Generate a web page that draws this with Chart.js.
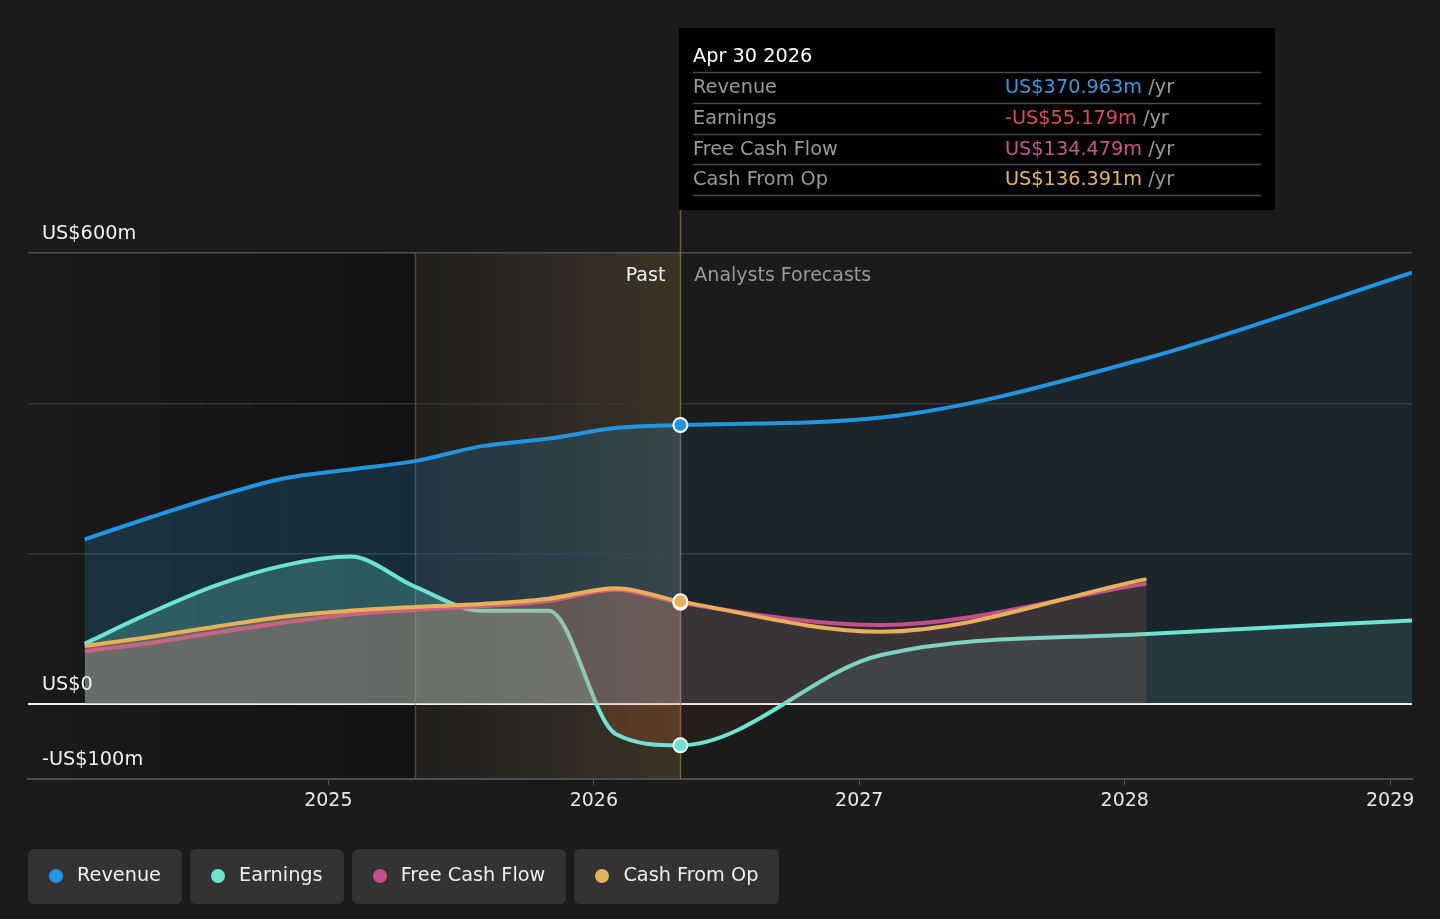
<!DOCTYPE html>
<html>
<head>
<meta charset="utf-8">
<script src="https://cdn.jsdelivr.net/npm/chart.js@4.4.1/dist/chart.umd.min.js"></script>
<style>
  html, body { margin: 0; padding: 0; background: #1b1b1b; }
  body { width: 1440px; height: 919px; position: relative; overflow: hidden; font-family: 'DejaVu Sans', sans-serif; }
  #wrap { position: absolute; left: 0; top: 0; width: 1440px; height: 919px; }
  #legend { position: absolute; left: 28px; top: 849px; display: flex; gap: 8px; }
  .item { box-sizing: border-box; height: 55px; background: #333; border-radius: 6px; display: flex; align-items: center;
          padding: 0 21px 5px 21px; color: #eee; font-size: 19.3px; }
  .dot { width: 14px; height: 14px; border-radius: 50%; margin-right: 14px; margin-top: 4px; }
</style>
</head>
<body>
<div id="wrap"><canvas id="chart" width="1440" height="919"></canvas></div>
<div id="legend"></div>
<script>
// dates of the data points (quarterly history, then yearly forecasts)
const dates = ['2024-01-31', '2024-04-30', '2024-07-31', '2024-10-31', '2025-01-31', '2025-04-30',
               '2025-07-31', '2025-10-31', '2026-01-31', '2026-04-30', '2027-01-31', '2028-01-31', '2029-01-31'];
// values in US$m
const revenue  = [219, 248, 276, 300, 312, 323, 343, 353, 367, 370.963, 381, 460, 574];
const earnings = [80, 121, 158, 184, 196, 156, 124, 124, -40, -55.179, 65, 93, 111];
const fcf      = [70, 81, 95, 108, 119, 125, 130, 137, 152, 134.479, 105, 160, null];
const cfo      = [77, 89, 103, 116, 124, 129, 133, 140, 154, 136.391, 96, 166, null];

const seriesNames = ['Revenue', 'Earnings', 'Free Cash Flow', 'Cash From Op'];
const xTickYears = [2025, 2026, 2027, 2028, 2029];
const xRange = ['2023-11-14', '2029-01-31'];
const yGridValues = [-100, 0, 200, 400, 600];
const yLabelValues = [600, 0, -100];
const yLabelTexts = ['US$600m', 'US$0', '-US$100m'];
const bandStart = '2025-04-30';
const highlightDate = '2026-04-30';

const colors = {
  revenue: '#2394df', earnings: '#6de3d2', fcf: '#c54f8b', cfo: '#e9b05a'
};
const months = ['Jan','Feb','Mar','Apr','May','Jun','Jul','Aug','Sep','Oct','Nov','Dec'];

function toYear(s) {
  const d = new Date(s + 'T00:00:00Z');
  const y = d.getUTCFullYear();
  return y + (d - Date.UTC(y, 0, 1)) / (Date.UTC(y + 1, 0, 1) - Date.UTC(y, 0, 1));
}
const hiIdx = dates.indexOf(highlightDate);
const pts = arr => dates.map((d, i) => ({ x: toYear(d), y: arr[i] })).filter(p => p.y !== null);

// horizontal gradient: one colour for the past, another for the forecast
function pastFuture(chart, past, future) {
  const a = chart.chartArea;
  if (!a) return past;
  const xh = chart.scales.x.getPixelForValue(toYear(highlightDate));
  const f = Math.min(Math.max((xh - a.left) / (a.right - a.left), 0), 1);
  const g = chart.ctx.createLinearGradient(a.left, 0, a.right, 0);
  g.addColorStop(0, past); g.addColorStop(f, past);
  g.addColorStop(Math.min(f + 0.001, 1), future); g.addColorStop(1, future);
  return g;
}

function money(v) {
  return (v < 0 ? '-' : '') + 'US$' + Math.abs(v).toFixed(3) + 'm';
}

const bandsPlugin = {
  id: 'bands',
  beforeDraw(chart) {
    const { ctx, chartArea: a, scales: { x } } = chart;
    const xb = x.getPixelForValue(toYear(bandStart));
    const xh = x.getPixelForValue(toYear(highlightDate));
    ctx.save();
    let g = ctx.createLinearGradient(a.left, 0, xb, 0);
    g.addColorStop(0, 'rgba(0,0,0,0)');
    g.addColorStop(1, 'rgba(0,0,0,0.32)');
    ctx.fillStyle = g;
    ctx.fillRect(a.left, a.top, xb - a.left, a.bottom - a.top);
    g = ctx.createLinearGradient(xb, 0, xh, 0);
    g.addColorStop(0, 'rgba(190,150,80,0.04)');
    g.addColorStop(1, 'rgba(190,150,80,0.2)');
    ctx.fillStyle = g;
    ctx.fillRect(xb, a.top, xh - xb, a.bottom - a.top);
    ctx.restore();
  },
  beforeDatasetsDraw(chart) {
    const { ctx, chartArea: a, scales: { x } } = chart;
    const xb = Math.round(x.getPixelForValue(toYear(bandStart))) + 0.5;
    const xh = Math.round(x.getPixelForValue(toYear(highlightDate))) + 0.5;
    ctx.save();
    ctx.lineWidth = 1.5;
    ctx.strokeStyle = 'rgba(120,105,75,0.55)';
    ctx.beginPath(); ctx.moveTo(xb, a.top); ctx.lineTo(xb, a.bottom); ctx.stroke();
    ctx.strokeStyle = 'rgba(150,120,70,0.75)';
    ctx.beginPath(); ctx.moveTo(xh, 210); ctx.lineTo(xh, a.bottom); ctx.stroke();
    ctx.restore();
  },
  afterDraw(chart) {
    const { ctx, chartArea: a, scales: { x, y } } = chart;
    const xh = x.getPixelForValue(toYear(highlightDate));
    ctx.save();
    // y labels sit inside the plot, above their grid lines
    ctx.font = '19.3px "DejaVu Sans"';
    ctx.fillStyle = '#f0f0f0';
    ctx.textBaseline = 'alphabetic';
    ctx.textAlign = 'left';
    yLabelValues.forEach((v, i) => ctx.fillText(yLabelTexts[i], 42, y.getPixelForValue(v) - 14));
    // past / forecast captions
    ctx.font = '19px "DejaVu Sans"';
    ctx.textAlign = 'right';
    ctx.fillStyle = '#f0f0f0';
    ctx.fillText('Past', xh - 15, a.top + 28);
    ctx.textAlign = 'left';
    ctx.fillStyle = '#9a9a9a';
    ctx.fillText('Analysts Forecasts', xh + 14, a.top + 28);
    // tooltip box
    const bx = Math.round(xh) - 1, by = 28, bw = 596, bh = 182;
    ctx.fillStyle = '#000';
    ctx.fillRect(bx, by, bw, bh);
    const d = new Date(highlightDate + 'T00:00:00Z');
    ctx.font = '19.3px "DejaVu Sans"';
    ctx.fillStyle = '#fff';
    ctx.fillText(months[d.getUTCMonth()] + ' ' + d.getUTCDate() + ' ' + d.getUTCFullYear(), bx + 14, by + 34);
    const rows = [
      [seriesNames[0], revenue[hiIdx], '#3a98dc'],
      [seriesNames[1], earnings[hiIdx], '#e5484d'],
      [seriesNames[2], fcf[hiIdx], '#c8548e'],
      [seriesNames[3], cfo[hiIdx], '#e9b462']
    ];
    ctx.strokeStyle = '#4a4a4a';
    ctx.lineWidth = 1.5;
    for (let i = 0; i <= rows.length; i++) {
      const ly = Math.round(by + 44 + i * 30.75) + 0.5;
      ctx.beginPath(); ctx.moveTo(bx + 14, ly); ctx.lineTo(bx + bw - 14, ly); ctx.stroke();
    }
    rows.forEach((r, i) => {
      const base = by + 65 + i * 30.75;
      ctx.fillStyle = '#999';
      ctx.fillText(r[0], bx + 14, base);
      const txt = money(r[1]);
      ctx.fillStyle = r[2];
      ctx.fillText(txt, bx + 326, base);
      const w = ctx.measureText(txt + ' ').width;
      ctx.fillStyle = '#999';
      ctx.fillText('/yr', bx + 326 + w, base);
    });
    ctx.restore();
  }
};

function lineSet(label, data, color, past, future, order, fill) {
  return {
    label, data: pts(data), order,
    borderColor: color, borderWidth: 4,
    backgroundColor: c => pastFuture(c.chart, past, future),
    fill: fill || 'origin',
    cubicInterpolationMode: 'monotone',
    pointRadius: c => (c.raw && c.raw.x === toYear(highlightDate)) ? 7 : 0,
    pointBackgroundColor: color, pointBorderColor: '#fff', pointBorderWidth: 2
  };
}

Chart.defaults.font.family = "'DejaVu Sans', sans-serif";

new Chart(document.getElementById('chart'), {
  type: 'line',
  data: {
    datasets: [
      lineSet('Revenue', revenue, colors.revenue, 'rgba(35,148,223,0.2)', 'rgba(35,148,223,0.09)', 4),
      lineSet('Earnings', earnings, colors.earnings, 'rgba(109,227,210,0.25)', 'rgba(109,227,210,0.1)', 3,
        c => ({
          target: 'origin',
          above: pastFuture(c.chart, 'rgba(109,227,210,0.25)', 'rgba(109,227,210,0.1)'),
          below: pastFuture(c.chart, 'rgba(215,95,50,0.2)', 'rgba(215,95,50,0.06)')
        })),
      lineSet('Free Cash Flow', fcf, colors.fcf, 'rgba(197,79,139,0.15)', 'rgba(197,79,139,0.09)', 2),
      lineSet('Cash From Op', cfo, colors.cfo, 'rgba(233,176,90,0.2)', 'rgba(233,176,90,0.08)', 1)
    ]
  },
  options: {
    responsive: false,
    animation: false,
    events: [],
    layout: { padding: { left: 28, right: 28, top: 253, bottom: 100 } },
    plugins: { legend: { display: false }, tooltip: { enabled: false } },
    scales: {
      x: {
        type: 'linear',
        min: toYear(xRange[0]),
        max: toYear(xRange[1]),
        afterBuildTicks: axis => { axis.ticks = xTickYears.map(v => ({ value: v })); },
        afterFit: axis => { axis.height = 40; },
        ticks: { color: '#e8e8e8', font: { size: 19 }, padding: 5, maxRotation: 0, autoSkip: false,
                 callback: v => String(v) },
        grid: { drawOnChartArea: false, drawTicks: true, tickLength: 6, color: '#555' },
        border: { color: '#4d4d4d', width: 2 }
      },
      y: {
        min: -100,
        max: 600,
        afterBuildTicks: axis => { axis.ticks = yGridValues.map(v => ({ value: v })); },
        afterFit: axis => { axis.width = 0; },
        ticks: { display: false },
        grid: {
          drawTicks: false,
          color: c => c.tick.value === 0 ? '#f2f2f2' : c.tick.value === 600 ? '#4e4e4e' :
                      c.tick.value === -100 ? 'rgba(0,0,0,0)' : '#353535',
          lineWidth: c => c.tick.value === 0 ? 2 : 1.5
        },
        border: { display: false }
      }
    }
  },
  plugins: [bandsPlugin]
});

// legend chips
const legendColors = [colors.revenue, colors.earnings, colors.fcf, colors.cfo];
document.getElementById('legend').innerHTML = seriesNames.map((n, i) =>
  '<div class="item"><span class="dot" style="background:' + legendColors[i] + '"></span>' + n + '</div>'
).join('');
</script>
</body>
</html>
